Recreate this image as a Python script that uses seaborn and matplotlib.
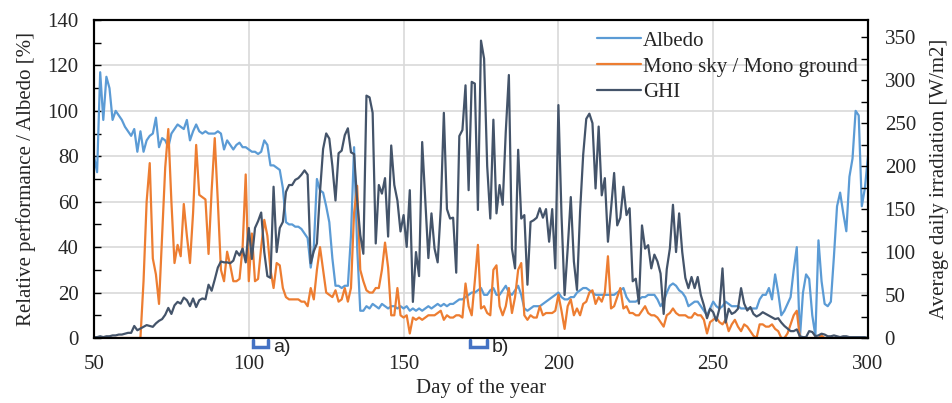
import numpy as np
import pandas as pd
import matplotlib
matplotlib.use("Agg")
import matplotlib.pyplot as plt
from matplotlib.ticker import MultipleLocator
import seaborn as sns

# ---------------- data (day 50 .. 300) ----------------
days = list(range(50, 301))

albedo = [
    80, 73, 117, 96, 115, 110, 96, 100, 98, 96,      # 50-59
    93, 91, 89, 92, 82, 91, 82, 87, 89, 90,          # 60-69
    97, 84, 88, 87, 84, 90, 92, 94, 93, 92,          # 70-79
    96, 87, 91, 94, 91, 90, 91, 90, 90, 90,          # 80-89
    91, 90, 83, 87, 85, 83, 85, 86, 84, 84,          # 90-99
    83, 82, 82, 81, 82, 87, 85, 76, 76, 75,          # 100-109
    74, 66, 51, 50, 50, 49, 49, 48, 46, 44,          # 110-119
    31, 40, 70, 65, 64, 58, 51, 35, 23, 23,          # 120-129
    22, 23, 23, 45, 84, 40, 12, 12, 14, 13,          # 130-139
    15, 14, 13, 15, 14, 13, 14, 14, 13, 14,          # 140-149
    13, 14, 12, 13, 12, 13, 12, 13, 14, 13,          # 150-159
    14, 15, 14, 15, 14, 15, 15, 16, 17, 17,          # 160-169
    18, 19, 20, 20, 21, 22, 19, 19, 21, 22,          # 170-179
    19, 19, 21, 23, 20, 19, 21, 23, 19, 13,          # 180-189
    12, 13, 14, 14, 14, 15, 16, 17, 18, 19,          # 190-199
    20, 18, 17, 17, 18, 18, 20, 21, 22, 22,          # 200-209
    21, 20, 19, 19, 19, 19, 19, 19, 19, 20,          # 210-219
    21, 22, 18, 16, 16, 16, 17, 18, 18, 19,          # 220-229
    19, 19, 17, 14, 16, 20, 23, 24, 23, 21,          # 230-239
    20, 18, 14, 15, 16, 16, 14, 12, 10, 13,          # 240-249
    16, 14, 13, 14, 16, 15, 14, 14, 14, 13,          # 250-259
    13, 13, 13, 13, 13, 17, 19, 19, 22, 17,          # 260-269
    28, 20, 10, 12, 15, 18, 30, 40, 0, 20,           # 270-279
    28, 26, 10, 1, 43, 25, 15, 14, 16, 36,           # 280-289
    58, 64, 55, 47, 71, 79, 100, 98, 58, 66,         # 290-299
    80,                                              # 300
]

mono_ratio = [
    0, 0, 0, 0, 0, 0, 0, 0, 0, 0,                    # 50-59
    0, 0, 0, 0, 0, 0, 25, 60, 77, 35,                # 60-69
    28, 15, 45, 75, 92, 60, 33, 41, 36, 59,          # 70-79
    45, 33, 55, 85, 63, 62, 61, 37, 65, 88,          # 80-89
    60, 30, 25, 38, 32, 25, 25, 26, 40, 72,          # 90-99
    25, 46, 25, 26, 40, 52, 45, 30, 22, 33,          # 100-109
    32, 22, 18, 17, 17, 17, 17, 16, 16, 14,          # 110-119
    22, 17, 30, 40, 30, 20, 19, 18, 21, 16,          # 120-129
    17, 22, 16, 22, 55, 67, 30, 25, 21, 20,          # 130-139
    20, 22, 22, 30, 42, 31, 10, 10, 22, 10,          # 140-149
    9, 10, 2, 9, 8, 9, 8, 9, 10, 10,                 # 150-159
    10, 11, 12, 8, 10, 9, 9, 10, 10, 9,              # 160-169
    24, 14, 10, 25, 41, 13, 14, 11, 10, 30,          # 170-179
    32, 14, 10, 14, 22, 11, 18, 30, 33, 10,          # 180-189
    8, 10, 9, 9, 14, 10, 11, 11, 11, 12,             # 190-199
    19, 12, 4, 14, 17, 10, 13, 10, 15, 16,           # 200-209
    20, 21, 15, 18, 16, 20, 36, 13, 14, 18,          # 210-219
    22, 13, 14, 11, 11, 10, 10, 12, 14, 11,          # 220-229
    10, 10, 9, 7, 5, 10, 11, 13, 11, 10,             # 230-239
    10, 10, 9, 9, 11, 10, 10, 8, 2, 7,               # 240-249
    8, 9, 7, 6, 8, 3, 6, 8, 5, 3,                    # 250-259
    6, 5, 3, 1, 0, 6, 6, 5, 5, 6,                    # 260-269
    4, 3, 0, 0, 2, 6, 10, 12, 0, 0,                  # 270-279
    0, 0, 0, 0, 0, 1, 0, 0, 0, 0,                    # 280-289
    0, 0, 0, 0, 0, 0, 0, 0, 0, 0,                    # 290-299
    0,                                               # 300
]

ghi = [
    1, 1, 2, 1, 2, 2, 3, 3, 4, 4,                    # 50-59
    5, 6, 6, 14, 9, 11, 13, 15, 14, 13,              # 60-69
    17, 20, 22, 27, 35, 28, 38, 42, 40, 47,          # 70-79
    44, 37, 46, 36, 44, 46, 45, 62, 55, 68,          # 80-89
    82, 89, 88, 88, 87, 90, 101, 96, 104, 88,        # 90-99
    128, 92, 128, 136, 146, 100, 72, 70, 176, 100,   # 100-109
    128, 135, 170, 178, 178, 184, 186, 190, 195, 190,  # 110-119
    87, 101, 110, 170, 220, 238, 232, 200, 160, 215,   # 120-129
    218, 236, 244, 216, 214, 160, 120, 98, 282, 280,   # 130-139
    262, 110, 178, 168, 186, 118, 224, 178, 160, 124,  # 140-149
    143, 106, 172, 42, 100, 72, 228, 160, 93, 145,     # 150-159
    104, 88, 150, 262, 150, 139, 140, 76, 235, 242,    # 160-169
    294, 172, 298, 296, 149, 346, 325, 200, 139, 254,  # 170-179
    145, 178, 155, 240, 306, 104, 81, 219, 139, 143,   # 180-189
    62, 135, 137, 140, 151, 140, 150, 112, 150, 81,    # 190-199
    271, 143, 50, 104, 164, 89, 56, 147, 213, 255,     # 200-209
    261, 250, 174, 246, 166, 186, 112, 150, 192, 131,  # 210-219
    140, 176, 143, 151, 66, 69, 40, 131, 104, 108,     # 220-229
    81, 97, 89, 75, 28, 80, 104, 155, 100, 145,        # 230-239
    100, 70, 58, 71, 58, 71, 50, 38, 23, 34,           # 240-249
    30, 20, 34, 81, 18, 34, 28, 30, 34, 58,            # 250-259
    40, 32, 36, 28, 25, 27, 30, 28, 26, 24,            # 260-269
    22, 23, 18, 14, 11, 8, 8, 10, 2, 1,                # 270-279
    1, 8, 7, 2, 3, 5, 4, 2, 2, 3,                      # 280-289
    2, 1, 2, 2, 1, 1, 1, 1, 1, 1,                      # 290-299
    0,                                                 # 300
]

x_ticks = [50, 100, 150, 200, 250, 300]
left_ticks = [0, 20, 40, 60, 80, 100, 120, 140]
right_ticks = [0, 50, 100, 150, 200, 250, 300, 350]

# annotation brackets (day ranges)
mark_a = (101.5, 106.2)
mark_b = (171.4, 177.0)

# ---------------- styling ----------------
sns.set_style("white")
plt.rcParams["font.family"] = ["Liberation Serif", "DejaVu Serif"]
plt.rcParams["font.size"] = 15

C_ALB = "#5B9BD5"
C_MONO = "#ED7D31"
C_GHI = "#44546A"

df = pd.DataFrame({"day": days, "Albedo": albedo,
                   "Mono": mono_ratio, "GHI": ghi})

fig = plt.figure(figsize=(9.52, 4.03), dpi=100)
ax = fig.add_axes([94 / 952, 1 - 338 / 403, 774 / 952, 318 / 403])
ax2 = ax.twinx()

sns.lineplot(data=df, x="day", y="Albedo", ax=ax, color=C_ALB, lw=1.6,
             label="Albedo", legend=False)
sns.lineplot(data=df, x="day", y="Mono", ax=ax, color=C_MONO, lw=1.6,
             label="Mono sky / Mono ground", legend=False)
sns.lineplot(data=df, x="day", y="GHI", ax=ax2, color=C_GHI, lw=1.6,
             label="GHI", legend=False)

ax.set_xlim(50, 300)
ax.set_ylim(0, 140)
ax2.set_ylim(0, 370)

ax.set_xticks(x_ticks)
ax.set_yticks(left_ticks)
ax2.set_yticks(right_ticks)
ax.xaxis.set_minor_locator(MultipleLocator(10))
ax.yaxis.set_minor_locator(MultipleLocator(10))
ax2.yaxis.set_minor_locator(MultipleLocator(25))

ax.grid(True, which="major", color="#D9D9D9", lw=1.2)
ax.set_axisbelow(True)

ax.tick_params(which="both", direction="in", length=5, width=1.0,
               labelsize=15, color="black")
ax.tick_params(axis="y", pad=11)
ax.tick_params(axis="x", pad=12)
ax2.tick_params(which="both", direction="in", length=5, width=1.0,
                labelsize=15, pad=12, color="black")

for a in (ax, ax2):
    for s in a.spines.values():
        s.set_color("black")
        s.set_linewidth(1.5)

ax.set_xlabel("Day of the year", fontsize=15, labelpad=3)
ax.set_ylabel("Relative performance / Albedo [%]", fontsize=15, labelpad=8)
ax2.set_ylabel("Average daily irradiation [W/m2]", fontsize=15, labelpad=10)

# legend
h1, l1 = ax.get_legend_handles_labels()
h2, l2 = ax2.get_legend_handles_labels()
ax2.legend(h1 + h2, l1 + l2, loc="upper left", bbox_to_anchor=(0.645, 0.978),
           frameon=False, fontsize=15, handlelength=2.1, handletextpad=0.1,
           labelspacing=0.3, borderpad=0.2, borderaxespad=0.0)

# bracket markers under the axis
for (x0, x1), lab in ((mark_a, "a)"), (mark_b, "b)")):
    ax.plot([x0, x0, x1, x1], [-0.8, -3.9, -3.9, -0.8], color="#4472C4",
            lw=2.5, clip_on=False, solid_joinstyle="miter")
    ax.text(x1 + 1.6, -4.3, lab, fontsize=14, va="center", ha="left",
            family=["Liberation Sans", "DejaVu Sans"], clip_on=False)

fig.savefig("out.png", dpi=100)
